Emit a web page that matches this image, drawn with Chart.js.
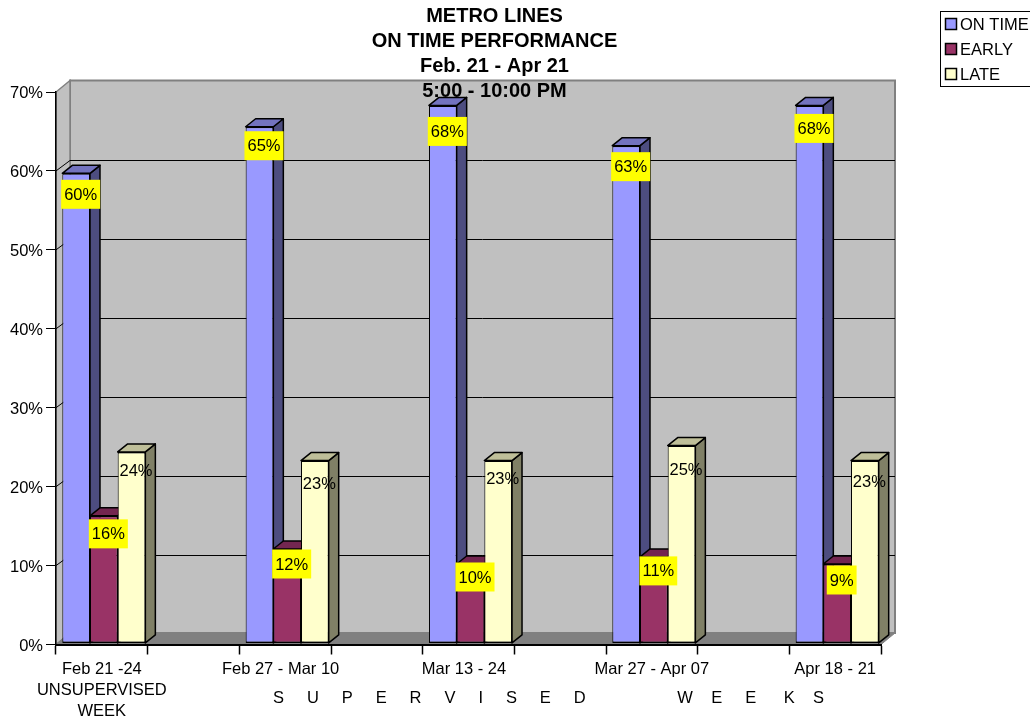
<!DOCTYPE html>
<html>
<head>
<meta charset="utf-8">
<title>Metro Lines</title>
<script src="https://cdn.jsdelivr.net/npm/chart.js@4"></script>
<style>
  html, body { margin: 0; padding: 0; background: #fff; overflow: hidden; }
  canvas { display: block; }
</style>
</head>
<body>
<canvas id="metroChart" width="1030" height="719"></canvas>
<script>
// every other slot on the axis is an empty spacer
const weeks = [
  ["Feb 21 -24", "UNSUPERVISED", "WEEK"], "",
  "Feb 27 - Mar 10  ", "",
  "Mar 13 - 24  ", "",
  "Mar 27 - Apr 07", "",
  "Apr 18 - 21"
];
const seriesNames = ["ON TIME", "EARLY", "LATE"];
const onTime = [59.7, null, 65.6, null, 68.3, null, 63.2, null, 68.3];
const early = [16.3, null, 12.1, null, 10.2, null, 11.1, null, 10.2];
const late = [24.4, null, 23.3, null, 23.3, null, 25.2, null, 23.3];
// printed labels, the source rounds them a bit differently from the bar heights
const onTimeLabels = ["60%", null, "65%", null, "68%", null, "63%", null, "68%"];
const earlyLabels = ["16%", null, "12%", null, "10%", null, "11%", null, "9%"];
const lateLabels = ["24%", null, "23%", null, "23%", null, "25%", null, "23%"];
const titleLines = ["METRO LINES", "ON TIME PERFORMANCE", "Feb. 21 - Apr 21", "5:00 - 10:00 PM"];
const supervisedText = "S     U     P     E     R     V     I     S     E     D                    W    E     E      K    S";

const FONT = '"Liberation Sans", Arial, sans-serif';
const barColors = ["#9999FF", "#993366", "#FFFFCC"];
const sideColors = ["#4D4D80", "#4D1A33", "#808066"];
const topColors = ["#7373BF", "#732650", "#BFBF99"];
const wallDx = 14, wallDy = 11.5;
const barDx = 10, barDy = 8;
const barShift = 2; // the bars stand a little right of the slot centre

// how far below the bar top each printed label sits
const labelDrop = [
  [21, 0, 19, 0, 26, 0, 21, 0, 23],
  [18, 0, 15, 0, 13, 0, 14, 0, 16],
  [19, 0, 23, 0, 18, 0, 24, 0, 21]
];

function poly(ctx, pts, fill, stroke, lw) {
  ctx.beginPath();
  pts.forEach((p, i) => i ? ctx.lineTo(p[0], p[1]) : ctx.moveTo(p[0], p[1]));
  ctx.closePath();
  if (fill) { ctx.fillStyle = fill; ctx.fill(); }
  if (stroke) { ctx.strokeStyle = stroke; ctx.lineWidth = lw; ctx.stroke(); }
}

const box3d = {
  id: "box3d",
  beforeDraw(c) {
    const ctx = c.ctx, a = c.chartArea, y = c.scales.y;
    const l = a.left, r = a.right, t = a.top, b = a.bottom;
    ctx.save();
    // back wall, left wall, floor
    poly(ctx, [[l + wallDx, t - wallDy], [r + wallDx, t - wallDy], [r + wallDx, b - wallDy], [l + wallDx, b - wallDy]], "#C0C0C0", "#808080", 2);
    poly(ctx, [[l, t], [l + wallDx, t - wallDy], [l + wallDx, b - wallDy], [l, b]], "#C0C0C0", "#808080", 1.5);
    poly(ctx, [[l, b], [l + wallDx, b - wallDy], [r + wallDx, b - wallDy], [r, b]], "#808080", "#808080", 1);
    // gridlines run along the left wall and across the back
    ctx.strokeStyle = "#000";
    ctx.lineWidth = 1;
    y.ticks.forEach(tick => {
      if (tick.value === 0 || tick.value === 70) return;
      const py = y.getPixelForValue(tick.value);
      const backY = Math.round(py - wallDy) + 1.5;
      ctx.beginPath();
      ctx.moveTo(l, py);
      ctx.lineTo(l + wallDx, backY);
      ctx.lineTo(r + wallDx, backY);
      ctx.stroke();
    });
    ctx.restore();
  },
  beforeDatasetsDraw(c) {
    const ctx = c.ctx;
    // stays translated for the library's own bars, restored after they are drawn
    ctx.save();
    ctx.translate(barShift, 0);
    c.data.datasets.forEach((ds, i) => {
      c.getDatasetMeta(i).data.forEach((bar, j) => {
        if (ds.data[j] === null) return;
        const x0 = bar.x - bar.width / 2, x1 = bar.x + bar.width / 2;
        const top = bar.y, base = bar.base;
        ctx.lineJoin = "round";
        poly(ctx, [[x1, top], [x1 + barDx, top - barDy], [x1 + barDx, base - barDy], [x1, base]], sideColors[i], "#000", 1.5);
        poly(ctx, [[x0, top], [x0 + barDx, top - barDy], [x1 + barDx, top - barDy], [x1, top]], topColors[i], "#000", 1.5);
      });
    });
  },
  afterDatasetsDraw(c) {
    const ctx = c.ctx;
    ctx.restore();
    const sets = [onTimeLabels, earlyLabels, lateLabels];
    ctx.save();
    ctx.font = "16.5px " + FONT;
    ctx.textAlign = "center";
    ctx.textBaseline = "middle";
    sets.forEach((labels, i) => {
      c.getDatasetMeta(i).data.forEach((bar, j) => {
        if (!labels[j]) return;
        const cx = bar.x + barShift + 4.5, cy = bar.y + labelDrop[i][j];
        if (i < 2) {
          const w = ctx.measureText(labels[j]).width + 6;
          ctx.fillStyle = "#FFFF00";
          ctx.fillRect(cx - w / 2, cy - 14.5, w, 29);
        }
        ctx.fillStyle = "#000";
        ctx.fillText(labels[j], cx, cy + 1);
      });
    });
    ctx.restore();
  },
  afterDraw(c) {
    const ctx = c.ctx;
    ctx.save();
    // title
    ctx.fillStyle = "#000";
    ctx.font = "bold 20px " + FONT;
    ctx.textAlign = "center";
    ctx.textBaseline = "middle";
    titleLines.forEach((line, i) => ctx.fillText(line, 494.5, 16 + i * 25.2));
    // second row of the axis text
    ctx.font = "16.5px " + FONT;
    ctx.textAlign = "left";
    ctx.fillText(supervisedText, 273, 698);
    // legend
    ctx.strokeStyle = "#000";
    ctx.lineWidth = 1;
    ctx.strokeRect(940.5, 11.5, 100, 75);
    seriesNames.forEach((name, i) => {
      const rowY = 24 + i * 25;
      ctx.fillStyle = barColors[i];
      ctx.fillRect(945.5, rowY - 5.5, 11, 11);
      ctx.strokeStyle = "#000";
      ctx.lineWidth = 1.5;
      ctx.strokeRect(945.5, rowY - 5.5, 11, 11);
      ctx.fillStyle = "#000";
      ctx.fillText(name, 960, rowY + 1);
    });
    ctx.restore();
  }
};

new Chart(document.getElementById("metroChart"), {
  type: "bar",
  data: {
    labels: weeks,
    datasets: [onTime, early, late].map((values, i) => ({
      label: seriesNames[i],
      data: values,
      base: 0.2,
      backgroundColor: barColors[i],
      borderColor: "#000",
      borderWidth: { top: 1.5, bottom: 1.5, left: 1, right: 1 },
      borderSkipped: false,
      categoryPercentage: 0.906,
      barPercentage: 1
    }))
  },
  options: {
    responsive: false,
    animation: false,
    layout: { padding: { top: 92, right: 149, left: 0, bottom: 0 } },
    plugins: { legend: { display: false }, title: { display: false }, tooltip: { enabled: false } },
    scales: {
      x: {
        afterFit: s => { s.height = 74.5; },
        grid: { drawOnChartArea: false, tickLength: 10, tickColor: "#000", tickWidth: 1.5 },
        border: { color: "#000", width: 2 },
        ticks: {
          autoSkip: false, maxRotation: 0, minRotation: 0, padding: 5, color: "#000",
          font: { family: FONT, size: 16.5, lineHeight: 1.25 }
        }
      },
      y: {
        min: 0,
        max: 70,
        afterFit: s => { s.width = 56; },
        grid: { drawOnChartArea: false, tickLength: 10, tickColor: "#000", tickWidth: 1 },
        border: { color: "#000", width: 1.5 },
        ticks: {
          stepSize: 10, padding: 3, color: "#000", labelOffset: 1.5,
          font: { family: FONT, size: 16.5 },
          callback: v => v + "%"
        }
      }
    }
  },
  plugins: [box3d]
});
</script>
</body>
</html>
